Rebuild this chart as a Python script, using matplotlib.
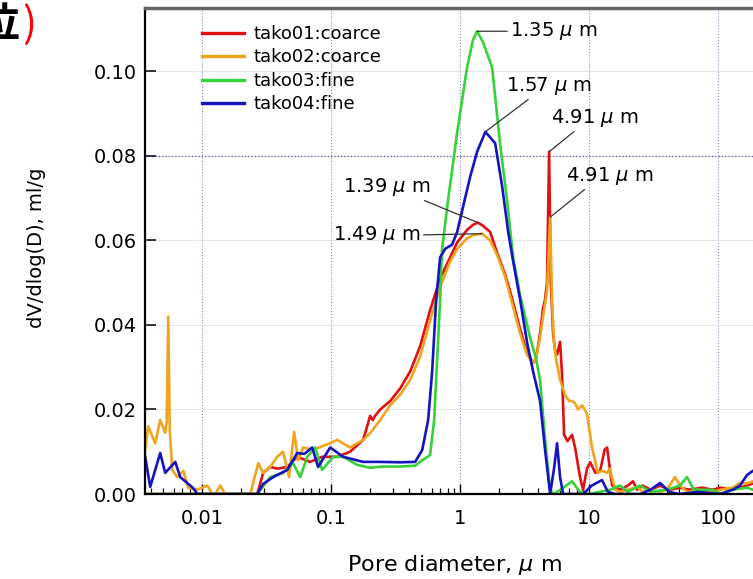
import matplotlib
matplotlib.use("Agg")
import matplotlib.pyplot as plt
from matplotlib.ticker import LogLocator, NullFormatter

# pore diameter (um) and dV/dlog(D) (ml/g)
tako01_x = [0.00361, 0.0236, 0.0267, 0.0297, 0.0337, 0.0381, 0.0456, 0.0545, 0.0687, 0.0851,
            0.1114, 0.140, 0.177, 0.190, 0.2006, 0.210, 0.219, 0.240, 0.287, 0.343, 0.410,
            0.490, 0.585, 0.700, 0.837, 0.948, 1.133, 1.26, 1.379, 1.50, 1.71, 1.94, 2.23,
            2.44, 2.92, 3.30, 3.68, 3.88, 4.17, 4.40, 4.56, 4.72, 4.90, 5.05, 5.26, 5.45,
            5.65, 5.96, 6.18, 6.4, 6.8, 7.38, 7.79, 8.51, 8.98, 9.64, 10.2, 11.2, 12.2, 13.2,
            13.8, 14.5, 15.1, 16.5, 17.4, 20.0, 21.9, 23.6, 26, 30, 35.5, 42, 50.7, 60, 75,
            91, 104, 130, 148, 168, 187, 250]
tako01_y = [0, 0, 0, 0.005, 0.0064, 0.006, 0.0064, 0.0088, 0.0076, 0.0088,
            0.0088, 0.010, 0.0128, 0.016, 0.0185, 0.0175, 0.0185, 0.020, 0.022, 0.025, 0.029,
            0.035, 0.0435, 0.051, 0.056, 0.0595, 0.0625, 0.0637, 0.0642, 0.0635, 0.062, 0.057, 0.052,
            0.048, 0.039, 0.0335, 0.031, 0.032, 0.038, 0.044, 0.046, 0.050, 0.081, 0.050, 0.038, 0.034,
            0.033, 0.036, 0.028, 0.014, 0.0125, 0.014, 0.011, 0.004, 0.001, 0.006, 0.0075, 0.005, 0.0055, 0.0105,
            0.011, 0.006, 0.002, 0.0015, 0.001, 0.002, 0.003, 0.001, 0.002, 0.001, 0.002, 0.001, 0.0015, 0.001, 0.0015,
            0.001, 0.0015, 0.001, 0.0015, 0.002, 0.0025, 0.003]

tako02_x = [0.00361, 0.00381, 0.00432, 0.00472, 0.00516, 0.00530, 0.00545, 0.00560, 0.00585, 0.0064,
            0.00713, 0.00779, 0.00914, 0.01094, 0.0120, 0.01262, 0.0138, 0.0150, 0.0236, 0.0272,
            0.0297, 0.0337, 0.0381, 0.0424, 0.0472, 0.0516, 0.0554, 0.0607, 0.0725, 0.0982,
            0.1114, 0.140, 0.177, 0.2006, 0.240, 0.287, 0.343, 0.410, 0.490, 0.585, 0.700,
            0.837, 0.948, 1.133, 1.26, 1.48, 1.71, 1.94, 2.23, 2.44, 2.92, 3.30, 3.68, 3.88,
            4.17, 4.40, 4.72, 4.99, 5.17, 5.35, 5.55, 5.96, 6.51, 7.0, 7.38, 7.79, 8.2, 8.83,
            9.64, 10.55, 11.7, 12.6, 13.8, 14.5, 15.9, 17.4, 20.0, 23.6, 26, 30, 35.5, 40,
            46.4, 50.7, 57.5, 70, 91, 104, 130, 148, 168, 187, 250]
tako02_y = [0.0104, 0.016, 0.012, 0.0175, 0.0145, 0.017, 0.042, 0.015, 0.0057, 0.004,
            0.0055, 0.0015, 0.001, 0.002, 0.0, 0.0, 0.002, 0, 0, 0.0073,
            0.005, 0.0064, 0.0088, 0.010, 0.004, 0.0147, 0.008, 0.011, 0.0105, 0.012,
            0.0128, 0.011, 0.0128, 0.0144, 0.0175, 0.021, 0.0235, 0.027, 0.0325, 0.041, 0.049,
            0.055, 0.058, 0.0605, 0.0612, 0.0616, 0.060, 0.0565, 0.0515, 0.047, 0.038, 0.033, 0.031, 0.032,
            0.037, 0.042, 0.048, 0.0655, 0.045, 0.036, 0.032, 0.027, 0.0234, 0.022, 0.022, 0.0215, 0.020, 0.021,
            0.019, 0.011, 0.005, 0.0055, 0.005, 0.006, 0.001, 0.0005, 0.001, 0.0017, 0.0005, 0.001, 0.0005, 0.001,
            0.004, 0.002, 0.0005, 0.001, 0.0005, 0.001, 0.0015, 0.0026, 0.0025, 0.003, 0.003]

tako03_x = [0.00361, 0.0267, 0.0337, 0.0424, 0.0507, 0.0575, 0.0652, 0.0751, 0.0851, 0.1037,
            0.124, 0.159, 0.2006, 0.25, 0.343, 0.448, 0.508, 0.585, 0.629, 0.664, 0.700,
            0.725, 0.807, 0.948, 1.133, 1.26, 1.355, 1.50, 1.77, 2.04, 2.31, 2.58, 2.92,
            3.49, 3.88, 4.17, 4.56, 4.99, 5.3, 6.0, 7.38, 8.5, 10, 12, 14.5, 17.4, 20, 24.8,
            30, 40, 50.7, 57.5, 65, 91, 104, 130, 168, 187, 250]
tako03_y = [0, 0, 0.004, 0.005, 0.0073, 0.004, 0.0088, 0.011, 0.0057, 0.0088,
            0.0088, 0.0069, 0.0062, 0.0065, 0.0065, 0.0067, 0.008, 0.0092, 0.0175, 0.032, 0.046,
            0.058, 0.0696, 0.0855, 0.101, 0.1075, 0.1095, 0.107, 0.101, 0.083, 0.0696, 0.056, 0.047,
            0.037, 0.032, 0.027, 0.013, 0.001, 0, 0.001, 0.003, 0.0005, 0, 0.0005, 0.001, 0.002, 0.0005, 0.002,
            0.0005, 0.001, 0.002, 0.004, 0.001, 0.001, 0, 0.001, 0.0015, 0.001, 0.001]

tako04_x = [0.00361, 0.00395, 0.00472, 0.00516, 0.00618, 0.00675, 0.00765, 0.00851, 0.00914,
            0.0267, 0.0297, 0.0355, 0.0456, 0.0545, 0.0620, 0.0712, 0.0792, 0.0982, 0.124,
            0.177, 0.240, 0.343, 0.448, 0.508, 0.565, 0.607, 0.652, 0.700, 0.765, 0.867,
            0.948, 1.055, 1.195, 1.355, 1.57, 1.87, 2.12, 2.36, 2.58, 2.92, 3.30, 3.68, 4.17,
            4.56, 4.99, 5.35, 5.65, 5.96, 6.29, 9.0, 10.5, 12.6, 14, 15.9, 25, 30, 35.5, 42,
            50, 70, 104, 130, 148, 168, 187, 250]
tako04_y = [0.0088, 0.0017, 0.0097, 0.005, 0.0076, 0.004, 0.0026, 0.0014, 0,
            0, 0.0024, 0.004, 0.0057, 0.0097, 0.0095, 0.011, 0.0064, 0.011, 0.0088,
            0.0076, 0.0076, 0.0075, 0.0076, 0.0104, 0.0175, 0.029, 0.046, 0.056, 0.058, 0.059,
            0.062, 0.068, 0.075, 0.081, 0.0857, 0.083, 0.0727, 0.062, 0.055, 0.046, 0.036, 0.029, 0.022,
            0.0104, 0, 0.006, 0.012, 0.004, 0, 0, 0.002, 0.0033, 0.0005, 0, 0, 0.001, 0.0026, 0.0005,
            0, 0.0005, 0, 0.001, 0.002, 0.0045, 0.0055, 0.006]

series_x = [tako01_x, tako02_x, tako03_x, tako04_x]
series_y = [tako01_y, tako02_y, tako03_y, tako04_y]
labels = ["tako01:coarce", "tako02:coarce", "tako03:fine", "tako04:fine"]
colors = ["#e01010", "#f0a41e", "#36d23a", "#1414c0"]

# peak labels
peak_text = ["1.35", "1.57", "4.91", "4.91", "1.39", "1.49"]
peak_x = [1.355, 1.57, 4.90, 4.99, 1.379, 1.48]
peak_y = [0.1095, 0.0857, 0.081, 0.0655, 0.0642, 0.0616]
text_x = [2.44, 4.9, 11.1, 14.5, 0.2716, 0.227]
text_y = [0.1095, 0.0966, 0.089, 0.0753, 0.0727, 0.0613]

yticks = [0.00, 0.02, 0.04, 0.06, 0.08, 0.10]
xticks = [0.01, 0.1, 1, 10, 100]
xticklabels = ["0.01", "0.1", "1", "10", "100"]

fig = plt.figure(figsize=(7.53, 5.79), dpi=100)
ax = fig.add_axes([0.1926, 0.1468, 0.864, 0.8394])

for xs, ys, lab, col in zip(series_x, series_y, labels, colors):
    ax.plot(xs, ys, color=col, lw=1.9, label=lab)

ax.set_xscale("log")
ax.set_xlim(0.0036, 400)
ax.set_ylim(0, 0.115)

# grid lines
for gx in xticks:
    ax.axvline(gx, color="#8c8cc4", lw=0.8, ls=":", zorder=0)
for gy in yticks[1:]:
    ax.axhline(gy, color="#e4e4ec", lw=0.7, zorder=0)
ax.axhline(0.08, color="#5a5ab4", lw=0.9, ls=":", zorder=0)

ax.set_xticks(xticks)
ax.set_xticklabels(xticklabels)
ax.xaxis.set_minor_locator(LogLocator(base=10, subs=range(2, 10)))
ax.xaxis.set_minor_formatter(NullFormatter())
ax.set_yticks(yticks)
ax.set_yticklabels(["%.2f" % v for v in yticks])
ax.tick_params(axis="x", which="major", direction="in", length=7, width=1, labelsize=14, pad=11)
ax.tick_params(axis="x", which="minor", direction="in", length=4, width=0.9)
ax.tick_params(axis="y", which="major", direction="in", length=8, width=1.1, labelsize=14, pad=6)

for side in ["left", "bottom"]:
    ax.spines[side].set_linewidth(1.6)
    ax.spines[side].set_color("black")
ax.spines["top"].set_linewidth(2.5)
ax.spines["top"].set_color("#666666")
ax.spines["right"].set_visible(False)

ax.set_xlabel(r"Pore diameter, $\mu$ m", fontsize=16)
ax.set_ylabel("dV/dlog(D), ml/g", fontsize=14)
ax.xaxis.set_label_coords(0.476, -0.122)
ax.yaxis.set_label_coords(-0.152, 0.506)

relpos = [(0, 0.5), (0.3, 0), (0.3, 0), (0.25, 0), (0.85, 0), (1, 0.5)]
has = ["left", "center", "center", "center", "center", "center"]
for t, px, py, tx, ty, ha, rp in zip(peak_text, peak_x, peak_y, text_x, text_y, has, relpos):
    ax.annotate(t + r" $\mu$ m", xy=(px, py), xytext=(tx, ty), fontsize=14,
                ha=ha, va="center",
                arrowprops=dict(arrowstyle="-", color="#333333", lw=0.9,
                                shrinkA=0, shrinkB=0, relpos=rp))

ax.legend(loc="upper left", bbox_to_anchor=(0.0876, 0.965), frameon=False,
          fontsize=13, handlelength=2.3, handletextpad=0.55, labelspacing=0.3,
          borderpad=0, borderaxespad=0)
for line in ax.get_legend().get_lines():
    line.set_linewidth(2.4)

# cut-off title fragment at the top left, cropped like in the original
fig.text(19 / 753, 1 - 25 / 579, "位", ha="right", va="center", fontsize=30,
         fontweight="bold", family=["Noto Sans CJK JP", "DejaVu Sans"])
fig.text(22 / 753, 1 - 25 / 579, ")", ha="left", va="center", fontsize=30,
         color="#ff0000", family=["Noto Sans CJK JP", "DejaVu Sans"])

fig.savefig("out.png", dpi=100)
